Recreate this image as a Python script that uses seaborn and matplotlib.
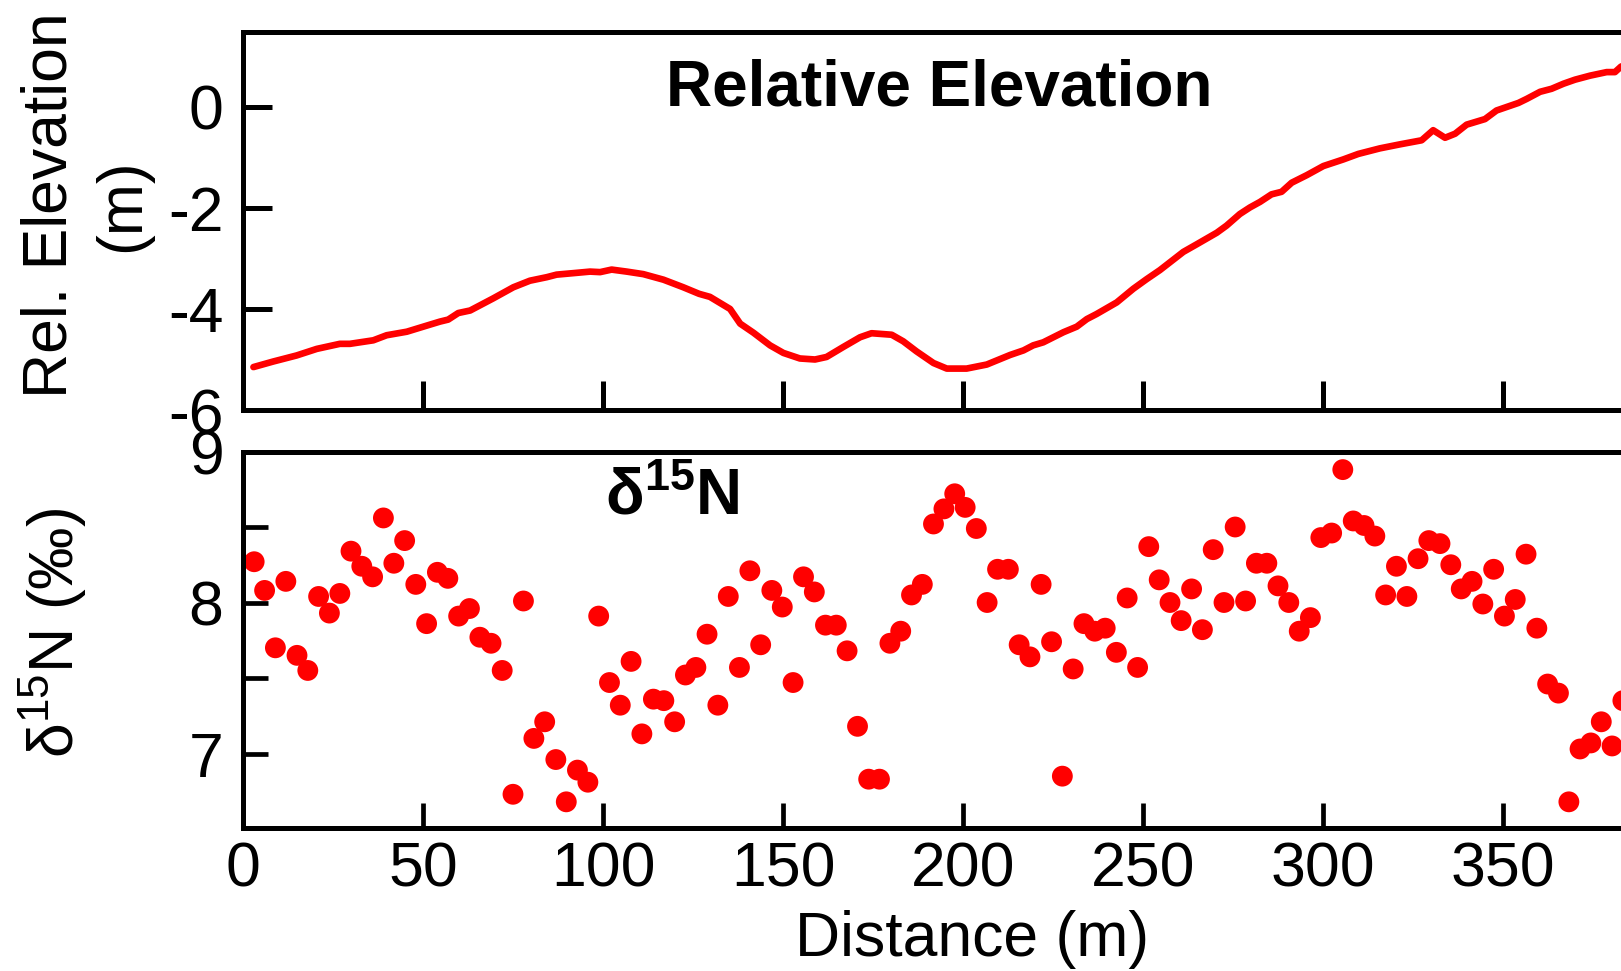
import matplotlib
matplotlib.use("Agg")
import matplotlib.pyplot as plt
import seaborn as sns
import pandas as pd

# ---- data ----
elev_distance = [2.9, 8.4, 14.9, 20.5, 26.9, 29.7, 36.2, 39.9, 45.5, 51.0, 54.7, 57.0, 59.8, 63.1,
                 69.5, 75.1, 79.7, 84.4, 87.1, 91.8, 96.4, 99.2, 102.4, 106.6, 111.2, 116.8, 122.3,
                 126.7, 129.7, 135.3, 138.1, 141.8, 146.4, 150.1, 154.7, 158.9, 162.1, 166.8, 171.4,
                 174.6, 180.2, 183.4, 187.1, 191.8, 195.5, 201.0, 206.6, 213.1, 216.8, 219.5, 222.3,
                 227.9, 231.6, 234.4, 237.1, 242.7, 247.3, 251.0, 254.7, 261.2, 264.9, 270.5, 273.2,
                 276.9, 279.7, 282.5, 285.7, 288.5, 291.3, 295.5, 300.1, 305.6, 309.8, 315.8, 321.4,
                 327.4, 330.6, 333.9, 336.7, 339.9, 345.0, 348.2, 354.3, 356.6, 360.3, 363.5, 366.8,
                 370.0, 374.2, 378.8, 381.1, 382.8, 385.0]
elev_values = [-5.15, -5.04, -4.92, -4.79, -4.69, -4.69, -4.62, -4.52, -4.45, -4.33, -4.25, -4.21,
               -4.08, -4.03, -3.79, -3.57, -3.44, -3.37, -3.32, -3.29, -3.26, -3.27, -3.22, -3.26,
               -3.31, -3.42, -3.57, -3.70, -3.76, -4.00, -4.29, -4.47, -4.72, -4.87, -4.98, -5.00,
               -4.95, -4.75, -4.56, -4.48, -4.51, -4.64, -4.84, -5.07, -5.18, -5.18, -5.10, -4.91,
               -4.82, -4.72, -4.66, -4.46, -4.35, -4.20, -4.10, -3.87, -3.60, -3.41, -3.23, -2.87,
               -2.72, -2.49, -2.35, -2.12, -1.99, -1.88, -1.73, -1.68, -1.50, -1.35, -1.17, -1.04,
               -0.93, -0.82, -0.74, -0.66, -0.46, -0.61, -0.53, -0.35, -0.24, -0.07, 0.08, 0.16,
               0.30, 0.36, 0.46, 0.54, 0.62, 0.69, 0.69, 0.80, 0.85]

d15n_distance = [3.1, 6.0, 9.0, 11.9, 15.0, 18.0, 21.0, 24.0, 26.9, 30.0, 33.0, 36.0, 39.0, 41.9,
                 44.9, 48.0, 51.0, 54.0, 56.9, 59.9, 62.9, 65.8, 68.9, 72.0, 75.0, 77.9, 80.8, 83.8,
                 86.9, 89.8, 92.9, 95.8, 98.8, 101.8, 104.8, 107.8, 110.8,
                 114.0, 116.9, 119.9, 122.9, 125.8, 128.9, 131.9, 134.8, 137.9, 140.8, 143.8, 146.9,
                 149.8, 152.8, 155.7, 158.7, 161.8, 164.8, 167.8, 170.7, 173.8, 176.8, 179.7, 182.7,
                 185.7, 188.7, 191.8, 194.7, 197.7, 200.6, 203.7, 206.7, 209.6, 212.6, 215.6, 218.6,
                 221.7, 224.6, 227.6, 230.6, 233.6, 236.6, 239.5, 242.6, 245.6, 248.5, 251.6, 254.5,
                 257.5, 260.6, 263.5, 266.5, 269.5, 272.5, 275.6, 278.5, 281.5, 284.4, 287.5, 290.5,
                 293.4, 296.5, 299.4, 302.4, 305.5, 308.4, 311.4, 314.4, 317.4, 320.4, 323.3, 326.4,
                 329.4, 332.5, 335.5, 338.4, 341.4, 344.4, 347.4, 350.4, 353.4, 356.4, 359.4, 362.4,
                 365.4, 368.3, 371.4, 374.4, 377.3, 380.3, 383.3]
d15n_values = [8.27, 8.08, 7.70, 8.14, 7.65, 7.55, 8.04, 7.93, 8.06, 8.34, 8.24, 8.17, 8.56, 8.26,
               8.41, 8.12, 7.86, 8.20, 8.16, 7.91, 7.96, 7.77, 7.73, 7.55, 6.73, 8.01, 7.10, 7.21,
               6.96, 6.68, 6.89, 6.81, 7.91, 7.47, 7.32, 7.61, 7.13,
               7.36, 7.35, 7.21, 7.52, 7.57, 7.79, 7.32, 8.04, 7.57, 8.21, 7.72, 8.08, 7.97, 7.47,
               8.17, 8.07, 7.85, 7.85, 7.68, 7.18, 6.83, 6.83, 7.73, 7.81, 8.05, 8.12, 8.52, 8.62,
               8.72, 8.63, 8.49, 8.00, 8.22, 8.22, 7.72, 7.64,
               8.12, 7.74, 6.85, 7.56, 7.86, 7.81, 7.83, 7.67, 8.03, 7.57, 8.37, 8.15, 8.00, 7.88,
               8.09, 7.82, 8.35, 8.00, 8.50, 8.01, 8.26, 8.26, 8.11, 8.00, 7.81, 7.90, 8.43, 8.46,
               8.88, 8.54, 8.51, 8.44, 8.05, 8.24, 8.04, 8.29, 8.41,
               8.39, 8.25, 8.09, 8.14, 7.99, 8.22, 7.91, 8.02, 8.32, 7.83, 7.46, 7.40, 6.68, 7.03,
               7.07, 7.21, 7.05, 7.35]

x_ticks = [0, 50, 100, 150, 200, 250, 300, 350]
elev_ticks = [-6, -4, -2, 0]
d15n_ticks = [7, 8, 9]
d15n_minor_ticks = [7.5, 8.5]

# ---- style ----
sns.set_theme(style="ticks")
plt.rcParams["font.family"] = ["Liberation Sans", "DejaVu Sans"]
plt.rcParams["mathtext.default"] = "regular"
plt.rcParams["axes.unicode_minus"] = False
plt.rcParams["text.color"] = "black"
plt.rcParams["axes.labelcolor"] = "black"
plt.rcParams["xtick.color"] = "black"
plt.rcParams["ytick.color"] = "black"
plt.rcParams["axes.facecolor"] = "white"
plt.rcParams["figure.facecolor"] = "white"

RED = "#ff0000"
FS = 45

fig = plt.figure(figsize=(16.21, 9.71), dpi=100)
W, H = 1621.0, 971.0
left = 243 / W
width = 1458 / W
ax1 = fig.add_axes([left, 1 - 410 / H, width, (410 - 31.7) / H])
ax2 = fig.add_axes([left, 1 - 827.5 / H, width, (827.5 - 451.5) / H])

elev_df = pd.DataFrame({"distance": elev_distance, "elev": elev_values})
d15n_df = pd.DataFrame({"distance": d15n_distance, "d15n": d15n_values})

sns.lineplot(data=elev_df, x="distance", y="elev", ax=ax1, color=RED, linewidth=4.8,
             estimator=None, sort=False)
sns.scatterplot(data=d15n_df, x="distance", y="d15n", ax=ax2, color=RED, s=225,
                linewidth=0, edgecolor="none", clip_on=False)

for ax in (ax1, ax2):
    ax.set_xlim(0, 405)
    ax.set_xticks(x_ticks)
    for sp in ax.spines.values():
        sp.set_linewidth(3.6)
        sp.set_color("black")
        sp.set_visible(True)
    ax.grid(False)

ax1.set_ylim(-6, 1.49)
ax1.set_yticks(elev_ticks)
ax1.tick_params(axis="both", which="major", direction="in", length=21, width=3.6,
                color="black", labelcolor="black", labelsize=FS, pad=14)
ax1.tick_params(axis="x", labelbottom=False)

ax2.set_ylim(6.51, 9.0)
ax2.set_yticks(d15n_ticks)
ax2.set_yticks(d15n_minor_ticks, minor=True)
ax2.tick_params(axis="both", which="both", direction="in", length=18, width=3.4,
                color="black", labelcolor="black", labelsize=FS)
ax2.tick_params(axis="y", which="major", pad=14)
ax2.tick_params(axis="x", which="major", pad=9)
ax2.tick_params(axis="x", which="minor", bottom=False)

ax1.set_xlabel("")
ax1.set_ylabel("Rel. Elevation\n(m)", fontsize=FS, linespacing=1.3, color="black")
ax1.yaxis.set_label_coords((152 - 243) / 1458, 0.542)

ax2.set_xlabel("Distance (m)", fontsize=FS, labelpad=8, color="black")
ax2.set_ylabel("δ$^{15}$N (‰)", fontsize=FS, color="black")
ax2.yaxis.set_label_coords((89 - 243) / 1458, 0.517)

ax1.text(193.5, 0.035, "Relative Elevation", ha="center", va="baseline",
         fontsize=46, fontweight="bold", color="black")
ax2.text(100.6, 8.585, "δ$^{15}$N", ha="left", va="baseline",
         fontsize=46, fontweight="bold", color="black")

fig.savefig("out.png", dpi=100)
